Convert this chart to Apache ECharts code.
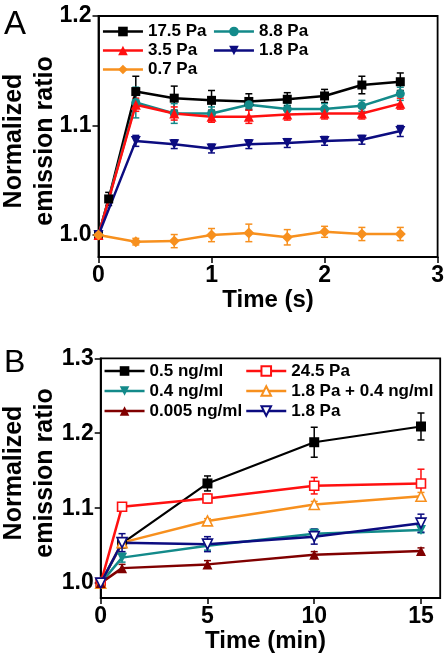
<!DOCTYPE html>
<html>
<head>
<meta charset="utf-8">
<script src="https://cdn.jsdelivr.net/npm/echarts@6/dist/echarts.min.js"></script>
<style>html,body{margin:0;padding:0;background:#fff;}#c{width:447px;height:654px;}</style>
</head>
<body>
<div id="c"></div>
<script>
// ---- Panel A data ----
const timeA = [0, 0.09, 0.33, 0.67, 1, 1.33, 1.67, 2, 2.33, 2.67];
const pa175 = [1.000, 1.033, 1.131, 1.125, 1.123, 1.122, 1.124, 1.127, 1.137, 1.140];
const pa175Err = [0, 0.006, 0.014, 0.011, 0.009, 0.007, 0.006, 0.006, 0.008, 0.008];
const pa88 = [1.000, null, 1.121, 1.111, 1.111, 1.119, 1.115, 1.115, 1.118, 1.129];
const pa88Err = [0, null, 0.014, 0.009, 0.006, 0.005, 0.005, 0.005, 0.005, 0.006];
const pa35 = [1.000, null, 1.119, 1.111, 1.108, 1.108, 1.110, 1.111, 1.111, 1.120];
const pa35Err = [0, null, 0.006, 0.006, 0.005, 0.006, 0.005, 0.005, 0.005, 0.005];
const pa18 = [1.000, null, 1.086, 1.083, 1.079, 1.083, 1.084, 1.086, 1.087, 1.095];
const pa18Err = [0, null, 0.005, 0.004, 0.004, 0.004, 0.004, 0.004, 0.004, 0.005];
const pa07 = [1.000, null, 0.994, 0.9945, 1.000, 1.002, 0.998, 1.003, 1.001, 1.001];
const pa07Err = [0, null, 0.003, 0.006, 0.006, 0.008, 0.007, 0.005, 0.006, 0.006];
const namesA = ['17.5 Pa', '8.8 Pa', '3.5 Pa', '1.8 Pa', '0.7 Pa'];
const xTicksA = [0, 1, 2, 3];
const yTicksA = [1.0, 1.1, 1.2];

// ---- Panel B data ----
const timeB = [0, 1, 5, 10, 15];
const ng05 = [1.000, 1.053, 1.133, 1.188, 1.209];
const ng05Err = [0, 0.006, 0.010, 0.020, 0.018];
const pa245 = [1.000, 1.102, 1.113, 1.130, 1.133];
const pa245Err = [0, 0.002, 0.006, 0.011, 0.019];
const ng04 = [1.000, 1.034, 1.050, 1.066, 1.071];
const ng04Err = [0, 0.006, 0.006, 0.006, 0.004];
const pa18ng04 = [1.000, 1.054, 1.083, 1.105, 1.116];
const pa18ng04Err = [0, 0.004, 0.003, 0.004, 0.005];
const ng0005 = [1.000, 1.020, 1.025, 1.038, 1.043];
const ng0005Err = [0, 0.005, 0.005, 0.004, 0.004];
const pa18B = [1.000, 1.054, 1.052, 1.062, 1.080];
const pa18BErr = [0, 0.012, 0.010, 0.010, 0.012];
const namesB = ['0.5 ng/ml', '24.5 Pa', '0.4 ng/ml', '1.8 Pa + 0.4 ng/ml', '0.005 ng/ml', '1.8 Pa'];
const xTicksB = [0, 5, 10, 15];
const yTicksB = [1.0, 1.1, 1.2, 1.3];

const FONT = "'Liberation Sans', Arial, Helvetica, sans-serif";
const C = {black:'#000000', teal:'#138a8a', red:'#ff1010', navy:'#0c0c80', orange:'#f7901e', dred:'#800000'};

function pts(xs, ys) { const out = []; xs.forEach((x, i) => { if (ys[i] != null) out.push([x, ys[i]]); }); return out; }
function errPts(xs, ys, es) { const out = []; xs.forEach((x, i) => { if (ys[i] != null && es[i]) out.push([x, ys[i], es[i]]); }); return out; }

function lineSeries(name, xs, ys, color, symbol, size, idx, opts) {
  opts = opts || {};
  return {
    type: 'line', name: name, xAxisIndex: idx, yAxisIndex: idx,
    data: pts(xs, ys), symbol: symbol, symbolSize: size, symbolRotate: opts.rot || 0,
    lineStyle: {color: color, width: opts.lw || 2.5},
    itemStyle: opts.open ? {color: '#ffffff', borderColor: color, borderWidth: 1.6} : {color: color, borderColor: color, borderWidth: 0},
    z: 3, animation: false, connectNulls: true
  };
}
function errSeries(xs, ys, es, color, idx) {
  return {
    type: 'custom', xAxisIndex: idx, yAxisIndex: idx, z: 2, animation: false, silent: true,
    data: errPts(xs, ys, es), encode: {x: 0, y: 1},
    renderItem: function (params, api) {
      const x = api.value(0), y = api.value(1), e = api.value(2);
      const hi = api.coord([x, y + e]), lo = api.coord([x, y - e]);
      const w = 3.5, st = {stroke: color, lineWidth: 1.5};
      return {type: 'group', children: [
        {type: 'line', shape: {x1: hi[0], y1: hi[1], x2: lo[0], y2: lo[1]}, style: st},
        {type: 'line', shape: {x1: hi[0] - w, y1: hi[1], x2: hi[0] + w, y2: hi[1]}, style: st},
        {type: 'line', shape: {x1: lo[0] - w, y1: lo[1], x2: lo[0] + w, y2: lo[1]}, style: st}
      ]};
    }
  };
}

const labelStyle = {color: '#000', fontFamily: FONT, fontWeight: 'bold', fontSize: 23};
function xAxis(idx, min, max, ticks, name, gap, pad) {
  return {
    type: 'value', gridIndex: idx, min: min, max: max,
    name: name, nameLocation: 'middle', nameGap: gap,
    nameTextStyle: {color: '#000', fontFamily: FONT, fontWeight: 'bold', fontSize: 24, padding: pad || 0},
    axisLine: {show: true, lineStyle: {color: '#000', width: 1.8}},
    axisTick: {show: true, inside: false, length: 6, lineStyle: {color: '#000', width: 1.5}, customValues: ticks},
    axisLabel: Object.assign({margin: 7, customValues: ticks, formatter: v => String(v)}, labelStyle),
    splitLine: {show: false}
  };
}
function yAxis(idx, min, max, ticks) {
  return {
    type: 'value', gridIndex: idx, min: min, max: max,
    axisLine: {show: true, lineStyle: {color: '#000', width: 1.8}},
    axisTick: {show: true, inside: false, length: 6, lineStyle: {color: '#000', width: 1.5}, customValues: ticks},
    axisLabel: Object.assign({margin: 7, customValues: ticks, formatter: v => Number(v).toFixed(1)}, labelStyle),
    splitLine: {show: false}
  };
}
function legend(left, top, data, gap) {
  return {
    left: left, top: top, orient: 'vertical', padding: 0, itemGap: gap,
    itemWidth: 40, itemHeight: 12, data: data, selectedMode: false,
    lineStyle: {width: 2.5},
    formatter: n => n.replace('\u200b', ''),
    textStyle: {color: '#000', fontFamily: FONT, fontWeight: 'bold', fontSize: 17, lineHeight: 16}
  };
}

const B18 = '1.8 Pa\u200b';
const option = {
  backgroundColor: '#fff',
  animation: false,
  grid: [
    {left: 98.5, top: 16, width: 342, height: 241, show: true, borderColor: '#000', borderWidth: 1.8, backgroundColor: 'transparent'},
    {left: 100.7, top: 358.3, width: 339.5, height: 241, show: true, borderColor: '#000', borderWidth: 1.8, backgroundColor: 'transparent'}
  ],
  xAxis: [xAxis(0, 0, 3, xTicksA, 'Time (s)', 30), xAxis(1, 0, 15.9, xTicksB, 'Time (min)', 27, [0, 10, 0, 0])],
  yAxis: [yAxis(0, 0.98, 1.2, yTicksA), yAxis(1, 0.98, 1.3, yTicksB)],
  legend: [
    legend(101.7, 23, [namesA[0], namesA[2], namesA[4]], 2),
    legend(212.7, 23, [namesA[1], namesA[3]], 2),
    legend(103.3, 362.5, [namesB[0], namesB[2], namesB[4]], 3),
    legend(245, 362.5, [namesB[1], namesB[3], B18], 3)
  ],
  graphic: [
    {type: 'text', x: 4, y: 25, style: {text: 'A', font: "33px " + FONT, fill: '#000', textAlign: 'left', textVerticalAlign: 'middle'}},
    {type: 'text', x: 4, y: 363, style: {text: 'B', font: "32px " + FONT, fill: '#000', textAlign: 'left', textVerticalAlign: 'middle'}},
    {type: 'text', x: 30, y: 141, rotation: Math.PI / 2, style: {text: 'Normalized\nemission ratio', font: "bold 25px " + FONT, lineHeight: 31, fill: '#000', textAlign: 'center', textVerticalAlign: 'middle'}},
    {type: 'text', x: 30, y: 473, rotation: Math.PI / 2, style: {text: 'Normalized\nemission ratio', font: "bold 25px " + FONT, lineHeight: 31, fill: '#000', textAlign: 'center', textVerticalAlign: 'middle'}}
  ],
  series: [
    errSeries(timeA, pa175, pa175Err, C.black, 0),
    errSeries(timeA, pa88, pa88Err, C.teal, 0),
    errSeries(timeA, pa35, pa35Err, C.red, 0),
    errSeries(timeA, pa18, pa18Err, C.navy, 0),
    errSeries(timeA, pa07, pa07Err, C.orange, 0),
    lineSeries(namesA[0], timeA, pa175, C.black, 'rect', 9, 0),
    lineSeries(namesA[1], timeA, pa88, C.teal, 'circle', 9, 0),
    lineSeries(namesA[2], timeA, pa35, C.red, 'triangle', 10, 0),
    lineSeries(namesA[3], timeA, pa18, C.navy, 'triangle', 10, 0, {rot: 180}),
    lineSeries(namesA[4], timeA, pa07, C.orange, 'diamond', 11, 0),

    errSeries(timeB, ng05, ng05Err, C.black, 1),
    errSeries(timeB, pa245, pa245Err, C.red, 1),
    errSeries(timeB, ng04, ng04Err, C.teal, 1),
    errSeries(timeB, pa18ng04, pa18ng04Err, C.orange, 1),
    errSeries(timeB, ng0005, ng0005Err, C.dred, 1),
    errSeries(timeB, pa18B, pa18BErr, C.navy, 1),
    lineSeries(namesB[0], timeB, ng05, C.black, 'rect', 10, 1, {lw: 2.2}),
    lineSeries(namesB[1], timeB, pa245, C.red, 'rect', 9, 1, {open: true}),
    lineSeries(namesB[2], timeB, ng04, C.teal, 'triangle', 10, 1, {rot: 180}),
    lineSeries(namesB[3], timeB, pa18ng04, C.orange, 'triangle', 10, 1, {open: true}),
    lineSeries(namesB[4], timeB, ng0005, C.dred, 'triangle', 10, 1),
    lineSeries(B18, timeB, pa18B, C.navy, 'triangle', 10, 1, {rot: 180, open: true})
  ]
};
const chart = echarts.init(document.getElementById('c'), null, {renderer: 'canvas'});
chart.setOption(option);
</script>
</body>
</html>
